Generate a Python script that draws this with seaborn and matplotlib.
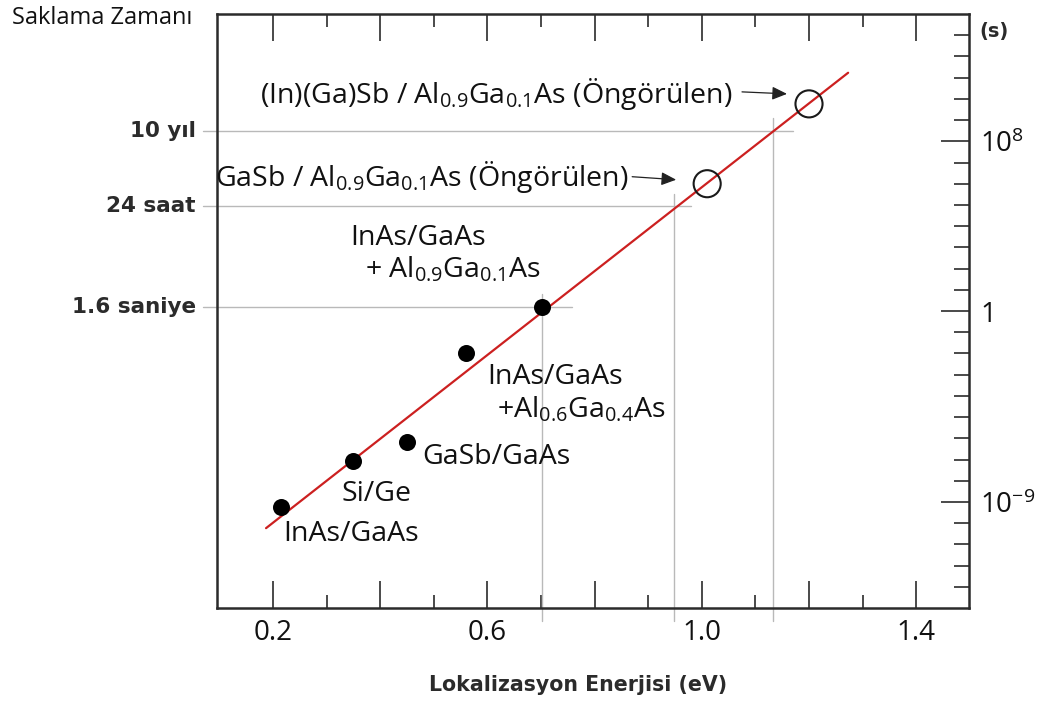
import matplotlib
matplotlib.use("Agg")
import matplotlib.pyplot as plt
from matplotlib import ticker, transforms
import numpy as np
import pandas as pd
import seaborn as sns

# ---- data -------------------------------------------------------------
# measured storage times (s) vs. localisation energy (eV)
measured_labels = ["InAs/GaAs", "Si/Ge", "GaSb/GaAs",
                   "InAs/GaAs\n+Al0.6Ga0.4As", "InAs/GaAs\n+Al0.9Ga0.1As"]
measured_energy = [0.215, 0.349, 0.450, 0.560, 0.702]
measured_time = [5.6e-10, 8.3e-8, 6.6e-7, 1.05e-2, 1.6]

# predicted systems
predicted_labels = ["GaSb / Al0.9Ga0.1As", "(In)(Ga)Sb / Al0.9Ga0.1As"]
predicted_energy = [1.01, 1.20]
predicted_time = [1.0e6, 5.8e9]

# fitted trend line end points
fit_energy = [0.187, 1.273]
fit_time = [5.8e-11, 1.7e11]

# reference storage times and the energies where the trend reaches them
guide_labels = ["1.6 saniye", "24 saat", "10 yıl"]
guide_time = [1.6, 86400.0, 3.15e8]
guide_energy = [0.702, 0.948, 1.133]
guide_overhang = [0.056, 0.032, 0.037]   # how far each horizontal guide runs past its energy

# axis ticks
x_major = [0.2, 0.4, 0.6, 0.8, 1.0, 1.2, 1.4]
x_major_labels = ["0.2", "", "0.6", "", "1.0", "", "1.4"]
x_minor = [0.3, 0.5, 0.7, 0.9, 1.1, 1.3]
y_major = [1e-9, 1.0, 1e8]
y_major_labels = ["10$^{-9}$", "1", "10$^{8}$"]
y_minor = [10.0 ** k for k in range(-13, 14) if k not in (-9, 0, 8)]

# ---- style ------------------------------------------------------------
sns.set_theme(style="ticks")
plt.rcParams["font.family"] = ["Open Sans", "DejaVu Sans"]
plt.rcParams["mathtext.fontset"] = "custom"
plt.rcParams["mathtext.rm"] = "Open Sans"
plt.rcParams["mathtext.it"] = "Open Sans:italic"
plt.rcParams["mathtext.bf"] = "Open Sans:bold"
plt.rcParams["mathtext.default"] = "regular"

INK = "#2b2b2b"
GUIDE = "#b9b9b9"
RED = "#cc2020"
BOLD_FONT = ["DejaVu Sans"]

fig = plt.figure(figsize=(10.42, 7.04), dpi=100)
ax = fig.add_axes([217 / 1042, 96 / 704, 752 / 1042, 594 / 704])
ax.set_yscale("log")
ax.set_xlim(0.0955, 1.4985)
ax.set_ylim(1e-14, 1e14)

# ---- guides ------------------------------------------------------------
for lab, t, e, over in zip(guide_labels, guide_time, guide_energy, guide_overhang):
    ax.plot([0.069, e + over], [t, t], color=GUIDE, lw=1.0, clip_on=False, zorder=1)
    ax.plot([e, e], [t * 10 ** 0.6, 10 ** -14.6], color=GUIDE, lw=1.0, clip_on=False, zorder=1)
    ax.text(-0.028, t, lab, transform=transforms.blended_transform_factory(ax.transAxes, ax.transData),
            ha="right", va="center", fontsize=15.5, fontweight="bold", family=BOLD_FONT, color=INK)

# ---- trend line and points ----------------------------------------------
fit_df = pd.DataFrame({"energy": fit_energy, "time": fit_time})
sns.lineplot(data=fit_df, x="energy", y="time", color=RED, lw=1.6, ax=ax, zorder=2)

meas_df = pd.DataFrame({"energy": measured_energy, "time": measured_time})
sns.scatterplot(data=meas_df, x="energy", y="time", s=150, color="black",
                edgecolor="black", linewidth=0, ax=ax, zorder=3)

pred_df = pd.DataFrame({"energy": predicted_energy, "time": predicted_time})
sns.scatterplot(data=pred_df, x="energy", y="time", s=380, facecolor="none",
                edgecolor="#1a1a1a", linewidth=1.5, ax=ax, zorder=3)

# ---- point labels ---------------------------------------------------------
TXT = dict(fontsize=20.5, color="#111111", textcoords="offset points")


def sub(text):
    return (text.replace("Al0.6", "Al$_{0.6}$").replace("Ga0.4", "Ga$_{0.4}$")
                .replace("Al0.9", "Al$_{0.9}$").replace("Ga0.1", "Ga$_{0.1}$"))


px = 0.72  # points per pixel at 100 dpi
# (dx, dy) offsets in pixels for every text line, with alignment
meas_offsets = [
    [("InAs/GaAs", 2, -27, "left")],
    [("Si/Ge", -11, -33, "left")],
    [("GaSb/GaAs", 15, -15, "left")],
    [("InAs/GaAs", 21, -24, "left"), ("+Al0.6Ga0.4As", 31, -57, "left")],
    [("InAs/GaAs", -192, 69, "left"), ("+ Al0.9Ga0.1As", -177, 37, "left")],
]
for e, t, lines in zip(measured_energy, measured_time, meas_offsets):
    for text, dx, dy, ha in lines:
        ax.annotate(sub(text), (e, t), xytext=(dx * px, dy * px), ha=ha, va="center", **TXT)

pred_text = [sub("GaSb / Al0.9Ga0.1As (Öngörülen)"), sub("(In)(Ga)Sb / Al0.9Ga0.1As (Öngörülen)")]
pred_text_off = [(-79, 7), (-76, 10)]
pred_arrow_tail = [(-75, 7), (-67, 12)]
pred_arrow_tip = [(-31, 4), (-22, 10)]
for e, t, text, toff, tail, tip in zip(predicted_energy, predicted_time, pred_text,
                                       pred_text_off, pred_arrow_tail, pred_arrow_tip):
    ax.annotate(text, (e, t), xytext=(toff[0] * px, toff[1] * px), ha="right", va="center", **TXT)
    tail_tr = ax.transData + transforms.ScaledTranslation(tail[0] / 100, tail[1] / 100, fig.dpi_scale_trans)
    tip_tr = ax.transData + transforms.ScaledTranslation(tip[0] / 100, tip[1] / 100, fig.dpi_scale_trans)
    ax.annotate("", xy=(e, t), xycoords=tip_tr, xytext=(e, t), textcoords=tail_tr,
                arrowprops=dict(arrowstyle="-|>,head_length=0.45,head_width=0.2",
                                color="#222222", lw=0.9, shrinkA=0, shrinkB=0, mutation_scale=20))

# ---- axes -------------------------------------------------------------------
for side in ["left", "right", "top", "bottom"]:
    ax.spines[side].set_color(INK)
    ax.spines[side].set_linewidth(1.8)

ax.xaxis.set_major_locator(ticker.FixedLocator(x_major))
ax.xaxis.set_major_formatter(ticker.FixedFormatter(x_major_labels))
ax.xaxis.set_minor_locator(ticker.FixedLocator(x_minor))
ax.tick_params(axis="x", which="both", direction="in", top=True, bottom=True,
               color=INK, width=1.2, labelsize=20, pad=8, labelcolor="#111111")
ax.tick_params(axis="x", which="major", length=19.5)
ax.tick_params(axis="x", which="minor", length=9.5)

ax.yaxis.tick_right()
ax.yaxis.set_major_locator(ticker.FixedLocator(y_major))
ax.yaxis.set_major_formatter(ticker.FixedFormatter(y_major_labels))
ax.yaxis.set_minor_locator(ticker.FixedLocator(y_minor))
ax.yaxis.set_minor_formatter(ticker.NullFormatter())
ax.tick_params(axis="y", which="both", direction="in", left=False, right=True,
               color=INK, width=1.2, labelsize=20, pad=8, labelcolor="#111111")
ax.tick_params(axis="y", which="major", length=20)
ax.tick_params(axis="y", which="minor", length=11)

ax.set_xlabel("")
ax.set_ylabel("")
fig.text(578 / 1042, 1 - 685 / 704, "Lokalizasyon Enerjisi (eV)", ha="center", va="center",
         fontsize=14.8, fontweight="bold", family=BOLD_FONT, color=INK)
fig.text(12 / 1042, 1 - 18 / 704, "Saklama Zamanı", ha="left", va="center", fontsize=17, color="#111111")
fig.text(994 / 1042, 1 - 31 / 704, "(s)", ha="center", va="center", fontsize=14,
         fontweight="bold", family=BOLD_FONT, color=INK)

fig.savefig("out.png", dpi=100, facecolor="white")
